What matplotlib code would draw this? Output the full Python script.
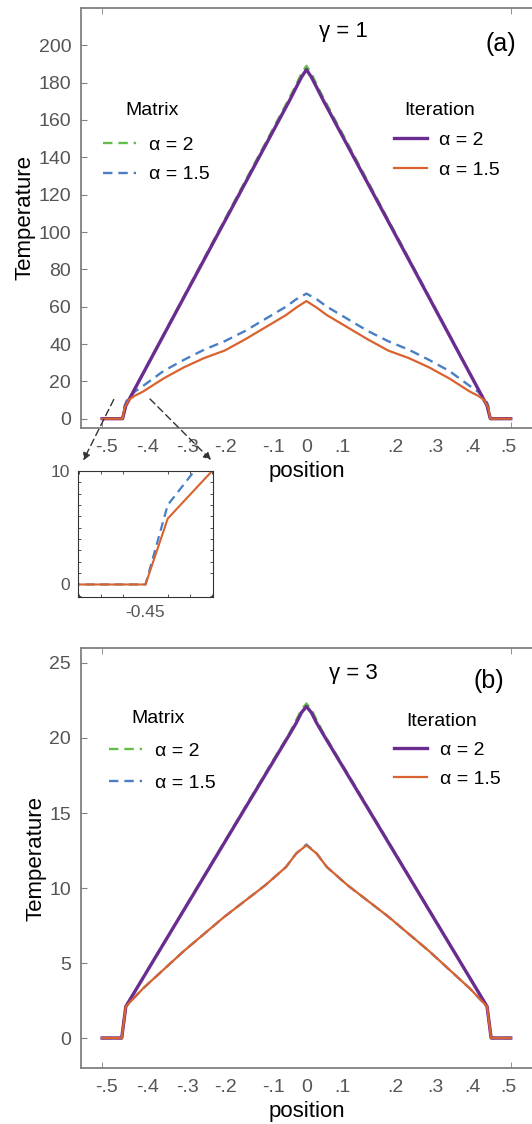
import numpy as np
import matplotlib
matplotlib.use("Agg")
import matplotlib.pyplot as plt
from matplotlib.patches import FancyArrowPatch

plt.rcParams['font.family'] = ['Liberation Sans', 'DejaVu Sans']

# ---- data ----
# (a) gamma = 1
x_it2_a = [-0.5, -0.45, -0.442, -0.04, -0.025, -0.012, 0.0, 0.012, 0.025, 0.04, 0.442, 0.45, 0.5]
T_it2_a = [0, 0, 7, 171, 177.5, 183, 187, 183, 177.5, 171, 7, 0, 0]
x_mx2_a = [-0.5, -0.45, -0.442, -0.04, -0.025, -0.012, 0.0, 0.012, 0.025, 0.04, 0.442, 0.45, 0.5]
T_mx2_a = [0, 0, 7, 172.5, 179, 185, 189, 185, 179, 172.5, 7, 0, 0]
x_it15_a = [-0.5, -0.45, -0.445, -0.435, -0.42, -0.4, -0.35, -0.3, -0.25, -0.2, -0.15, -0.1,
            -0.05, -0.025, 0.0, 0.025, 0.05, 0.1, 0.15, 0.2, 0.25, 0.3, 0.35, 0.4, 0.42,
            0.435, 0.445, 0.45, 0.5]
T_it15_a = [0, 0, 5.8, 10, 12.3, 14.5, 21.5, 27.5, 32.5, 36.5, 42.5, 49,
            55.5, 59.5, 63, 59.5, 55.5, 49, 42.5, 36.5, 32.5, 27.5, 21.5, 14.5, 12.3,
            10, 5.8, 0, 0]
x_mx15_a = [-0.5, -0.45, -0.445, -0.439, -0.42, -0.4, -0.35, -0.3, -0.25, -0.2, -0.15, -0.1,
            -0.05, -0.025, 0.0, 0.025, 0.05, 0.1, 0.15, 0.2, 0.25, 0.3, 0.35, 0.4, 0.42,
            0.439, 0.445, 0.45, 0.5]
T_mx15_a = [0, 0, 7, 10, 14.5, 17.5, 25.5, 31.5, 37, 41.5, 47, 53.5,
            60, 64, 67, 64, 60, 53.5, 47, 41.5, 37, 31.5, 25.5, 17.5, 14.5,
            10, 7, 0, 0]

# (b) gamma = 3
x_it2_b = [-0.5, -0.452, -0.442, -0.04, -0.025, -0.012, 0.0, 0.012, 0.025, 0.04, 0.442, 0.452, 0.5]
T_it2_b = [0, 0, 2.1, 20.3, 21.0, 21.7, 22.1, 21.7, 21.0, 20.3, 2.1, 0, 0]
x_mx2_b = [-0.5, -0.452, -0.442, -0.04, -0.025, -0.012, 0.0, 0.012, 0.025, 0.04, 0.442, 0.452, 0.5]
T_mx2_b = [0, 0, 2.1, 20.4, 21.2, 21.9, 22.3, 21.9, 21.2, 20.4, 2.1, 0, 0]
x_it15_b = [-0.5, -0.452, -0.442, -0.4, -0.3, -0.2, -0.1, -0.05, -0.025, 0.0,
            0.025, 0.05, 0.1, 0.2, 0.3, 0.4, 0.442, 0.452, 0.5]
T_it15_b = [0, 0, 2.1, 3.3, 5.8, 8.1, 10.2, 11.4, 12.3, 12.85,
            12.3, 11.4, 10.2, 8.1, 5.8, 3.3, 2.1, 0, 0]
x_mx15_b = x_it15_b
T_mx15_b = [0, 0, 2.1, 3.3, 5.8, 8.1, 10.2, 11.4, 12.3, 12.9,
            12.3, 11.4, 10.2, 8.1, 5.8, 3.3, 2.1, 0, 0]

xtick_pos = [-0.49, -0.39, -0.29, -0.198, -0.08, 0.0, 0.088, 0.218, 0.316, 0.407, 0.495]
xtick_lab = ['-.5', '-.4', '-.3', '-.2', '-.1', '0', '.1', '.2', '.3', '.4', '.5']

c_green = '#62bd4a'
c_blue = '#4a7fc4'
c_purple = '#6b2c91'
c_orange = '#d9622e'
c_spine = '#808080'
c_tick = '#555555'
dash = (0, (4, 2.5))

fig = plt.figure(figsize=(5.32, 11.24), dpi=100)


def setup(ax, ylim, yticks):
    ax.set_xlim(-0.552, 0.552)
    ax.set_ylim(*ylim)
    ax.set_yticks(yticks)
    ax.set_xticks(xtick_pos)
    ax.set_xticklabels(xtick_lab)
    ax.set_xticks([-0.5, 0, 0.5], minor=True)
    ax.tick_params(axis='x', which='major', length=0, labelsize=14, colors=c_tick, pad=8)
    ax.tick_params(axis='x', which='minor', direction='in', length=4, color=c_spine,
                   top=True, bottom=True)
    ax.tick_params(axis='y', direction='in', length=4, color=c_spine, labelsize=14,
                   labelcolor=c_tick, pad=7)
    ax.spines['right'].set_visible(False)
    for s in ['left', 'bottom', 'top']:
        ax.spines[s].set_color(c_spine)
        ax.spines[s].set_linewidth(1.3)
    ax.set_xlabel('position', fontsize=16, labelpad=3.5)
    ax.set_ylabel('Temperature', fontsize=16, labelpad=2)


def draw(ax, mx2, mx15, it2, it15):
    l1, = ax.plot(*mx2, color=c_green, ls=dash, lw=1.7)
    l2, = ax.plot(*mx15, color=c_blue, ls=dash, lw=1.7)
    l3, = ax.plot(*it2, color=c_purple, lw=2.4)
    l4, = ax.plot(*it15, color=c_orange, lw=1.6)
    return l1, l2, l3, l4


def legends(ax, handles, pos_m, pos_i, title_m, title_i, sp_m, sp_i):
    kw = dict(frameon=False, fontsize=14, handlelength=1.7, handletextpad=0.65,
              borderpad=0, borderaxespad=0, loc='upper left')
    leg1 = ax.legend(handles[:2], ['α = 2', 'α = 1.5'], bbox_to_anchor=pos_m,
                     labelspacing=sp_m, **kw)
    ax.add_artist(leg1)
    ax.legend(handles[2:], ['α = 2', 'α = 1.5'], bbox_to_anchor=pos_i,
              labelspacing=sp_i, **kw)
    ax.text(*title_m, 'Matrix', transform=ax.transAxes, ha='center', va='center', fontsize=14)
    ax.text(*title_i, 'Iteration', transform=ax.transAxes, ha='center', va='center', fontsize=14)


# top panel
ax1 = fig.add_axes([0.152, 0.6192, 0.848, 0.3737])
h = draw(ax1, (x_mx2_a, T_mx2_a), (x_mx15_a, T_mx15_a),
         (x_it2_a, T_it2_a), (x_it15_a, T_it15_a))
setup(ax1, (-5, 220), np.arange(0, 201, 20))
legends(ax1, h, (0.049, 0.694), (0.693, 0.707), (0.158, 0.755), (0.795, 0.755), 0.6, 0.65)
ax1.text(0.583, 0.943, 'γ = 1', transform=ax1.transAxes, ha='center', va='center', fontsize=16)
ax1.text(0.931, 0.915, '(a)', transform=ax1.transAxes, ha='center', va='center', fontsize=18)

# bottom panel
ax2 = fig.add_axes([0.152, 0.0498, 0.848, 0.3737])
h = draw(ax2, (x_mx2_b, T_mx2_b), (x_mx15_b, T_mx15_b),
         (x_it2_b, T_it2_b), (x_it15_b, T_it15_b))
setup(ax2, (-2, 26), [0, 5, 10, 15, 20, 25])
legends(ax2, h, (0.062, 0.776), (0.695, 0.778), (0.171, 0.831), (0.800, 0.824), 0.75, 0.6)
ax2.text(0.604, 0.940, 'γ = 3', transform=ax2.transAxes, ha='center', va='center', fontsize=16)
ax2.text(0.904, 0.922, '(b)', transform=ax2.transAxes, ha='center', va='center', fontsize=18)

# inset zoom near the left edge
axi = fig.add_axes([0.1466, 0.4689, 0.2538, 0.1121])
axi.plot(x_mx15_a, T_mx15_a, color=c_blue, ls=dash, lw=1.6)
axi.plot(x_it15_a, T_it15_a, color=c_orange, lw=1.5)
axi.set_xlim(-0.4652, -0.4348)
axi.set_ylim(-1.1, 10)
axi.set_xticks([-0.45])
axi.set_xticklabels(['-0.45'])
axi.set_yticks([0, 10])
axi.set_xticks(np.arange(-0.465, -0.434, 0.005), minor=True)
axi.set_yticks(np.arange(-1, 10.1, 1), minor=True)
axi.tick_params(which='both', direction='in', top=True, right=True, color='#333333')
axi.tick_params(which='major', length=0, labelsize=12.5, labelcolor=c_tick, pad=6)
axi.tick_params(which='minor', length=2.5)
for s in axi.spines.values():
    s.set_color('#333333')

# dashed pointer arrows from main plot to inset
arrow = dict(arrowstyle='-|>', ls=(0, (5, 3)), color='#333333', lw=1.0, mutation_scale=11)
fig.add_artist(FancyArrowPatch((115 / 532, 1 - 397 / 1124), (82 / 532, 1 - 463 / 1124),
                               transform=fig.transFigure, **arrow))
fig.add_artist(FancyArrowPatch((148 / 532, 1 - 397 / 1124), (213 / 532, 1 - 462 / 1124),
                               transform=fig.transFigure, **arrow))

fig.savefig('out.png', dpi=100)
